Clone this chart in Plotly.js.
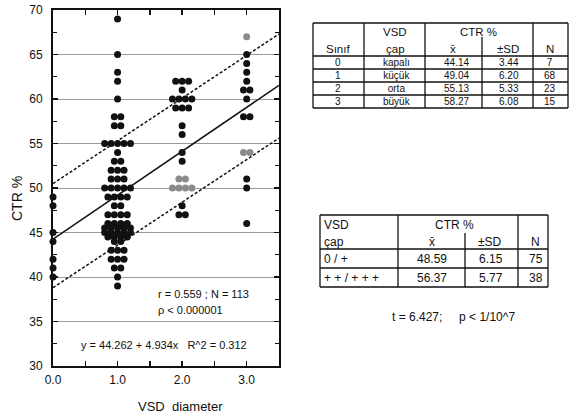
<!DOCTYPE html>
<html><head><meta charset="utf-8">
<script src="https://cdn.plot.ly/plotly-3.0.1.min.js"></script>
<style>html,body{margin:0;padding:0;background:#fff}#chart{width:570px;height:420px}</style>
</head><body><div id="chart"></div>
<script>
// ---- scatter data (CTR % by VSD class) ----
const group0 = [49,48,45,44,42,41,40];
const group1 = [69,65,63,62,60,58,58,57,57,55,55,55,55,55,54,53,53,52,52,52,51,51,51,50,50,50,50,50,49,49,49,49,48,48,47,47,47,47,46,46,46,46,45.5,45.5,45.5,45.5,45.5,45,45,45,45,45,44.5,44.5,44.5,44.5,44,44,43,43,43,42,42,42,41,41,40,39];
const group2 = [62,62,62,61,60,60,60,60,59,59,59,57,56,54,53,48,47,47];
const group2Gray = [51,51,50,50,50,50];
const group3 = [65,64,63,62,61,61,60,58,58,51,50,46];
const group3Gray = [67,54,54];
// regression and band end values
const fitIntercept = 44.262, fitSlope = 4.934;
const bandX = [0, 3.5];
const upperBand = [50.5, 67.3];
const lowerBand = [38.8, 55.6];
const statText1 = 'r = 0.559 ; N = 113';
const statText2 = 'ρ < 0.000001';
const eqText = 'y = 44.262 + 4.934x   R^2 = 0.312';
const xTickLabels = ['0.0','1.0','2.0','3.0'];
// ---- table 1 ----
const t1Class = ['0','1','2','3'];
const t1Size = ['kapalı','küçük','orta','büyük'];
const t1Mean = ['44.14','49.04','55.13','58.27'];
const t1SD = ['3.44','6.20','5.33','6.08'];
const t1N = ['7','68','23','15'];
// ---- table 2 ----
const t2Group = ['0 / +','+ + / + + +'];
const t2Mean = ['48.59','56.37'];
const t2SD = ['6.15','5.77'];
const t2N = ['75','38'];
const tTestText = 't = 6.427;\u00A0\u00A0\u00A0\u00A0\u00A0p < 1/10^7';

function spread(vals, c){
  const cnt = {}, idx = {}; vals.forEach(v=>cnt[v]=(cnt[v]||0)+1);
  return vals.map(v=>{ idx[v]=(idx[v]||0); const k=idx[v]++; return c + (k-(cnt[v]-1)/2)*0.1; });
}
const blackY = [].concat(group0, group1, group2, group3);
const blackX = [].concat(spread(group0,0), spread(group1,1), spread(group2,2), spread(group3,3));
const grayY = [].concat(group2Gray, group3Gray);
const grayX = [].concat(spread(group2Gray,2), spread(group3Gray,3));
const fitY = bandX.map(x=>fitIntercept+fitSlope*x);

const traces = [
  {x:bandX, y:upperBand, mode:'lines', line:{color:'#111', width:1.5, dash:'3px,2px'}, hoverinfo:'skip'},
  {x:bandX, y:lowerBand, mode:'lines', line:{color:'#111', width:1.5, dash:'3px,2px'}, hoverinfo:'skip'},
  {x:bandX, y:fitY, mode:'lines', line:{color:'#111', width:1.5}},
  {x:blackX, y:blackY, mode:'markers', marker:{color:'#111', size:7}, cliponaxis:false},
  {x:grayX, y:grayY, mode:'markers', marker:{color:'#8a8a8a', size:7}, cliponaxis:false}
];

const W=570, H=420;
const X = p=>p/W, Y = p=>1-p/H;
const shapes = [], ann = [];
const LN = {color:'#111', width:1.3};
const FF = 'Liberation Sans, Arial, sans-serif';
function hl(x0,x1,y){shapes.push({type:'line',xref:'paper',yref:'paper',x0:X(x0),x1:X(x1),y0:Y(y),y1:Y(y),line:LN});}
function vl(x,y0,y1){shapes.push({type:'line',xref:'paper',yref:'paper',x0:X(x),x1:X(x),y0:Y(y0),y1:Y(y1),line:LN});}
function txt(t,x,y,anchor,size,ya){ann.push({text:t,xref:'paper',yref:'paper',x:X(x),y:Y(y),xanchor:anchor||'center',yanchor:ya||'middle',showarrow:false,borderpad:0,font:{family:FF,size:size||12,color:'#111'}});}

// table 1 grid (text per column, one line per row; line spacing 1.3em = 13px at 10px)
const t1L=313,t1R=568,t1T=23,t1Hb=56,t1Row=13;
const t1B=t1Hb+t1Row*t1Class.length;
hl(t1L,t1R,t1T); hl(t1L,t1R,t1Hb);
for(let i=1;i<=t1Class.length;i++) hl(t1L,t1R,t1Hb+t1Row*i);
[t1L,364,425,533,t1R].forEach(x=>vl(x,t1T,t1B));
vl(482,37,t1B);
txt('VSD',395,32,'center',11.5); txt('CTR %',479,32,'center',11.5);
txt('Sınıf',338,49,'center',11.5); txt('çap',395,49,'center',11.5); txt('x̄',453,49,'center',11.5);
txt('±SD',508,49,'center',11.5); txt('N',550,49,'center',11.5);
const colY = (t1Hb+t1B)/2;
txt(t1Class.join('<br>'),338,colY,'center',10);
txt(t1Size.join('<br>'),397,colY,'center',10);
txt(t1Mean.join('<br>'),456,colY,'center',10);
txt(t1SD.join('<br>'),509,colY,'center',10);
txt(t1N.join('<br>'),550,colY,'center',10);
// table 2 grid
const t2L=320,t2R=548,t2T=215,t2Hb=249,t2Row=19;
const t2B=t2Hb+t2Row*t2Group.length;
hl(t2L,t2R,t2T); hl(t2L,t2R,t2Hb);
for(let i=1;i<=t2Group.length;i++) hl(t2L,t2R,t2Hb+t2Row*i);
[t2L,398,518,t2R].forEach(x=>vl(x,t2T,t2B));
vl(465,233,t2B);
txt('VSD',323,225,'left'); txt('CTR %',454,225);
txt('çap',323,242,'left'); txt('x̄',432,242); txt('±SD',490,242); txt('N',535,242);
t2Group.forEach((g,i)=>{
  const y=t2Hb+t2Row*i+10;
  txt(g,323,y,'left'); txt(t2Mean[i],432,y); txt(t2SD[i],491,y); txt(t2N[i],536,y);
});
txt(tTestText,453,317,'center',12);
// in-plot statistics
txt(statText1,157,294,'left',11);
txt(statText2,157,310,'left',11);
txt(eqText,80,345,'left',11);
// axis titles
ann.push({text:'CTR %',xref:'paper',yref:'paper',x:X(17),y:Y(199),textangle:-90,showarrow:false,xanchor:'center',yanchor:'middle',font:{family:FF,size:14,color:'#111'}});
txt('VSD\u00A0\u00A0diameter',180,406,'center',13);

const layout = {
  width:W, height:H, margin:{l:0,r:0,t:0,b:0}, showlegend:false,
  paper_bgcolor:'#fff', plot_bgcolor:'#fff',
  font:{family:FF, color:'#111'},
  xaxis:{domain:[53/W,279/W], range:[0,3.5], tickvals:[0,1,2,3], ticktext:xTickLabels,
    ticks:'inside', ticklen:5, tickwidth:1.3, tickcolor:'#111',
    minor:{tickvals:[0.5,1.5,2.5], ticks:'inside', ticklen:5, tickwidth:1.3, tickcolor:'#111', showgrid:false},
    showline:true, linewidth:2, linecolor:'#111', mirror:'ticks', showgrid:false, zeroline:false,
    tickfont:{size:12}, ticklabelstandoff:2, fixedrange:true},
  yaxis:{domain:[(H-366)/H,(H-10)/H], range:[30,70], dtick:5, tick0:30,
    ticks:'inside', ticklen:5, tickwidth:1.3, tickcolor:'#111',
    minor:{dtick:2.5, ticks:'inside', ticklen:4, tickwidth:1.3, tickcolor:'#111', showgrid:false},
    showline:true, linewidth:2, linecolor:'#111', mirror:'ticks',
    showgrid:true, gridcolor:'#9a9a9a', gridwidth:1, zeroline:false,
    tickfont:{size:12}, ticklabelstandoff:6, fixedrange:true},
  shapes:shapes, annotations:ann
};
Plotly.newPlot('chart', traces, layout, {staticPlot:true, displayModeBar:false});
</script></body></html>
